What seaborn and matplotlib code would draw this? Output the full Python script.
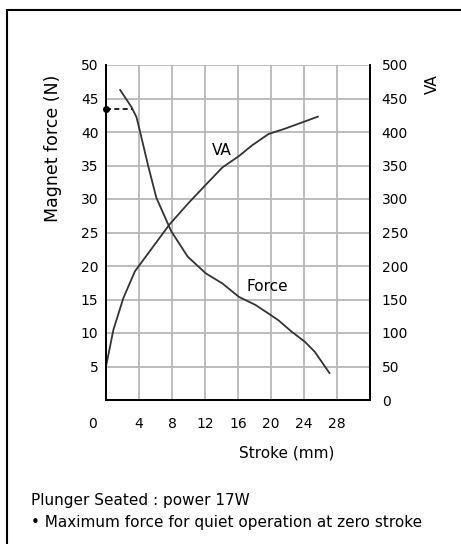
import numpy as np
import pandas as pd
import matplotlib
matplotlib.use("Agg")
import matplotlib.pyplot as plt
import matplotlib.transforms as mtransforms
from matplotlib.patches import Rectangle
import seaborn as sns

sns.set_style("white")
plt.rcParams["font.family"] = ["DejaVu Sans"]
plt.rcParams["text.color"] = "black"
plt.rcParams["axes.labelcolor"] = "black"
plt.rcParams["xtick.color"] = "black"
plt.rcParams["ytick.color"] = "black"

# force curve (left axis, N)
force_stroke = [1.7, 3.1, 3.7, 4.1, 5.1, 6.1, 7.9, 9.9, 12.1, 14.1, 16.1, 18.1, 19.7, 20.9, 22.5, 24.1, 25.3, 27.1]
force_n = [46.3, 43.7, 42.2, 40.2, 35.0, 30.2, 25.2, 21.4, 18.9, 17.4, 15.4, 14.2, 12.9, 11.9, 10.2, 8.7, 7.2, 4.0]

# VA curve (right axis)
va_stroke = [0, 0.9, 2.1, 3.5, 4.1, 5.3, 6.5, 7.7, 10, 12, 14.1, 16.1, 17.7, 19.7, 21.7, 23.7, 25.7]
va_values = [50, 105, 152, 192, 202, 222, 242, 262, 294, 320, 347, 364, 380, 397, 405, 414, 423]

# maximum force for quiet operation at zero stroke
quiet_stroke = [0, 3.1]
quiet_force = [43.5, 43.5]

x_ticks = [0, 4, 8, 12, 16, 20, 24, 28]
force_ticks = [5, 10, 15, 20, 25, 30, 35, 40, 45, 50]
va_ticks = [0, 50, 100, 150, 200, 250, 300, 350, 400, 450, 500]

df_force = pd.DataFrame({"stroke": force_stroke, "force": force_n})
df_va = pd.DataFrame({"stroke": va_stroke, "va": va_values})

curve_col = "#333333"
grid_col = "#b8b8b8"

fig = plt.figure(figsize=(4.61, 5.44), dpi=100)
ax = fig.add_axes([106 / 461, 1 - 400 / 544, 264 / 461, 335 / 544])
ax2 = ax.twinx()

sns.lineplot(data=df_force, x="stroke", y="force", ax=ax, color=curve_col, lw=1.3)
sns.lineplot(data=df_va, x="stroke", y="va", ax=ax2, color=curve_col, lw=1.3)
ax.plot(quiet_stroke, quiet_force, ls=(0, (3, 2)), color="black", lw=1.2)
ax.plot(quiet_stroke[:1], quiet_force[:1], "o", color="black", ms=4, clip_on=False, zorder=5)

ax.set_xlim(0, 32)
ax.set_ylim(0, 50)
ax2.set_ylim(0, 500)

ax.set_xticks(x_ticks)
ax.set_xticklabels([str(t) for t in x_ticks])
ax.set_yticks(force_ticks)
ax.set_yticklabels([str(t) for t in force_ticks])
ax2.set_yticks(va_ticks)
ax2.set_yticklabels([str(t) for t in va_ticks])

ax.grid(True, color=grid_col, lw=1.3)
ax2.grid(False)
ax.set_axisbelow(True)

ax.tick_params(axis="x", length=0, pad=12, labelsize=10)
ax.tick_params(axis="y", length=0, pad=5.5, labelsize=10)
ax2.tick_params(axis="y", length=0, pad=8.5, labelsize=10)

# the zero on the stroke axis sits left of the origin
lbl0 = ax.get_xticklabels()[0]
lbl0.set_transform(lbl0.get_transform() + mtransforms.ScaledTranslation(-14 / 100, 0, fig.dpi_scale_trans))

for a in (ax, ax2):
    a.spines["top"].set_visible(False)
    for s in ("left", "right", "bottom"):
        a.spines[s].set_color("black")
        a.spines[s].set_linewidth(1.3)

ax.set_xlabel("Stroke (mm)", fontsize=11)
ax.xaxis.set_label_coords(0.686, -0.135)
ax.set_ylabel("Magnet force (N)", fontsize=12.5)
ax.yaxis.set_label_coords(-0.167, 0.75)
ax2.set_ylabel("VA", fontsize=11)
ax2.yaxis.set_label_coords(1.208, 0.943)

ax.text(14, 37.2, "VA", fontsize=11, ha="center", va="center")
ax.text(19.5, 16.9, "Force", fontsize=11, ha="center", va="center")

fig.text(31 / 461, 1 - 501 / 544, "Plunger Seated : power 17W", fontsize=11, va="center")
fig.text(31 / 461, 1 - 523 / 544, "\u2022 Maximum force for quiet operation at zero stroke", fontsize=11, va="center")

fig.patches.append(Rectangle((7 / 461, -0.1), 1.2, 1.1 - 10 / 544,
                             transform=fig.transFigure, fill=False, ec="black", lw=1.5, clip_on=False))

fig.savefig("out.png", dpi=100)
